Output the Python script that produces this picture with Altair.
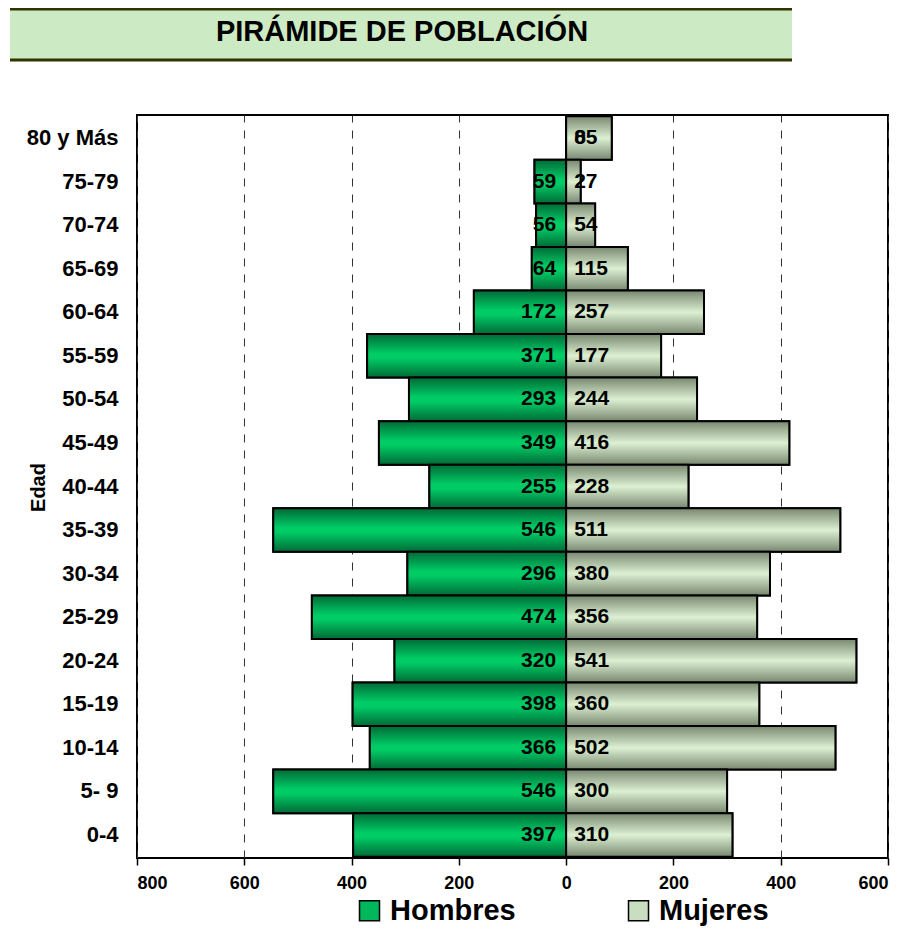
import altair as alt
import pandas as pd

edades = ["80 y Más", "75-79", "70-74", "65-69", "60-64", "55-59", "50-54", "45-49",
          "40-44", "35-39", "30-34", "25-29", "20-24", "15-19", "10-14", "5- 9", "0-4"]
hombres = [0, 59, 56, 64, 172, 371, 293, 349, 255, 546, 296, 474, 320, 398, 366, 546, 397]
mujeres = [85, 27, 54, 115, 257, 177, 244, 416, 228, 511, 380, 356, 541, 360, 502, 300, 310]
sexos = ["Hombres", "Mujeres"]
ticks = [-800, -600, -400, -200, 0, 200, 400, 600]

rows = []
for e, h, m in zip(edades, hombres, mujeres):
    rows.append({"Edad": e, "Sexo": "Hombres", "valor": -h, "n": h})
    rows.append({"Edad": e, "Sexo": "Mujeres", "valor": m, "n": m})
df = pd.DataFrame(rows)

FONT = "Liberation Sans"

green_grad = alt.Gradient(
    gradient="linear", x1=0, y1=0, x2=0, y2=1,
    stops=[alt.GradientStop(offset=0, color="#006A36"),
           alt.GradientStop(offset=0.45, color="#00CC66"),
           alt.GradientStop(offset=0.55, color="#00CC66"),
           alt.GradientStop(offset=1, color="#006A36")])
light_grad = alt.Gradient(
    gradient="linear", x1=0, y1=0, x2=0, y2=1,
    stops=[alt.GradientStop(offset=0, color="#788870"),
           alt.GradientStop(offset=0.5, color="#DDF0D2"),
           alt.GradientStop(offset=1, color="#788870")])

x_enc = alt.X("valor:Q",
              scale=alt.Scale(domain=[-800, 600], nice=False, zero=False),
              axis=alt.Axis(values=ticks, title=None, labelExpr="format(abs(datum.value), 'd')",
                            labelFont=FONT, labelFontSize=18, labelFontWeight="bold",
                            labelColor="black", labelPadding=9,
                            tickColor="black", tickSize=7, tickWidth=1.5,
                            domain=False,
                            grid=True, gridColor="#333333", gridDash=[8, 8], gridWidth=1))
y_enc = alt.Y("Edad:N", sort=edades,
              scale=alt.Scale(paddingInner=0, paddingOuter=0.03),
              axis=alt.Axis(title="Edad", labelFont=FONT, labelFontSize=22, labelFontWeight="bold",
                            labelColor="black", labelPadding=19, ticks=False, domain=False,
                            titleFont=FONT, titleFontSize=20, titleFontWeight="bold",
                            titleColor="black", titleAngle=270, titleX=-99, titleY=372,
                            titleAlign="center", titleBaseline="middle"))

base = alt.Chart(df)

legend_bars = base.mark_bar(stroke="black", strokeWidth=2).encode(
    x=x_enc, y=y_enc,
    color=alt.Color("Sexo:N", scale=alt.Scale(domain=sexos, range=["#00B85C", "#C9DEC0"]),
                    legend=alt.Legend(title=None, orient="none", direction="horizontal",
                                      legendX=218, legendY=781,
                                      symbolType="square", symbolSize=400,
                                      symbolStrokeColor="black", symbolStrokeWidth=1.5,
                                      labelFont=FONT, labelFontSize=29, labelFontWeight="bold",
                                      labelColor="black", labelOffset=6, columnPadding=108,
                                      labelLimit=300))
)

h_bars = base.transform_filter(alt.datum.Sexo == "Hombres").mark_bar(
    fill=green_grad, stroke="black", strokeWidth=2).encode(x="valor:Q", y=alt.Y("Edad:N", sort=edades))
m_bars = base.transform_filter(alt.datum.Sexo == "Mujeres").mark_bar(
    fill=light_grad, stroke="black", strokeWidth=2).encode(x="valor:Q", y=alt.Y("Edad:N", sort=edades))

h_text = base.transform_filter((alt.datum.Sexo == "Hombres") & (alt.datum.n > 0)).mark_text(
    align="right", baseline="middle", dx=-10, font=FONT, fontSize=21, fontWeight="bold",
    color="black").encode(x=alt.datum(0), y=alt.Y("Edad:N", sort=edades), text="n:Q")
m_text = base.transform_filter((alt.datum.Sexo == "Mujeres") | (alt.datum.n == 0)).mark_text(
    align="left", baseline="middle", dx=8, font=FONT, fontSize=21, fontWeight="bold",
    color="black").encode(x=alt.datum(0), y=alt.Y("Edad:N", sort=edades), text="n:Q")

one = alt.Data(values=[{"t": "PIRÁMIDE DE POBLACIÓN"}])
title_box = alt.Chart(one).mark_rect(fill="#CCEBC4").encode(
    x=alt.value(-127), x2=alt.value(655), y=alt.value(-106), y2=alt.value(-56))
title_top = alt.Chart(one).mark_rule(color="#333300", strokeWidth=3).encode(
    x=alt.value(-127), x2=alt.value(655), y=alt.value(-106))
title_bot = alt.Chart(one).mark_rule(color="#333300", strokeWidth=3).encode(
    x=alt.value(-127), x2=alt.value(655), y=alt.value(-55))
title_txt = alt.Chart(one).mark_text(font=FONT, fontSize=29, fontWeight="bold", color="black",
                                     align="center", baseline="middle").encode(
    x=alt.value(265), y=alt.value(-83), text="t:N")
left_frame = alt.Chart(one).mark_rule(color="black", strokeWidth=2).encode(
    x=alt.value(-135), y=alt.value(-47), y2=alt.value(830))

chart = alt.layer(
    title_box, title_top, title_bot, title_txt, left_frame,
    legend_bars, h_bars, m_bars, h_text, m_text
).properties(
    width=751, height=743,
    autosize=alt.AutoSizeParams(type="none"),
    padding={"left": 129, "top": 107, "right": 12, "bottom": 70},
    background="white"
).configure_view(stroke="black", strokeWidth=2)

chart.save("out.html", embed_options={"renderer": "svg", "actions": False})
